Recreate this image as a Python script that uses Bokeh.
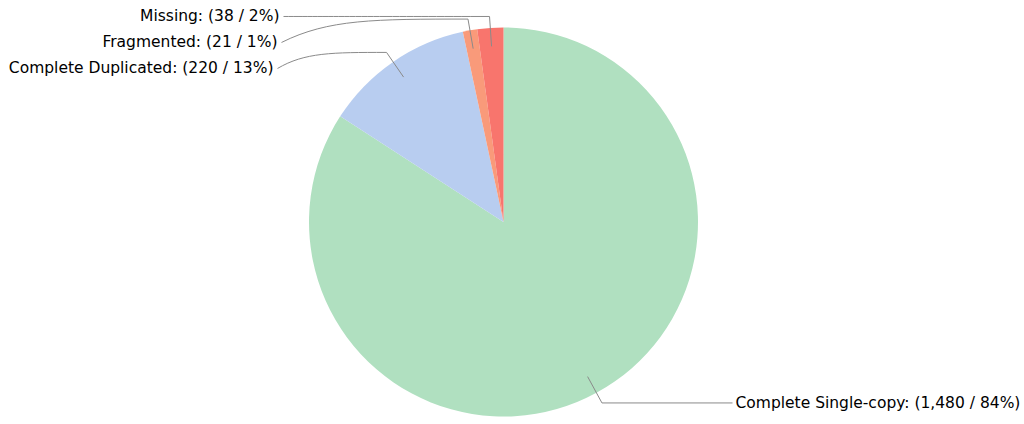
import math
from bokeh.plotting import figure
from bokeh.models import Range1d, ColumnDataSource
from bokeh.embed import file_html
from bokeh.resources import INLINE
from bokeh.core.properties import value

# ---- data ----
categories = ["Complete Single-copy", "Complete Duplicated", "Fragmented", "Missing"]
counts = [1480, 220, 21, 38]
colors = ["#b0e0c0", "#b8cdf0", "#f99a7a", "#f8756d"]

# ---- layout ----
W, H = 1024, 424
cx, cy, R = 503.0, 202.5, 194.5
r_anchor, r_elbow = 176.0, 206.0
label_gap = 26.0
left_label_right = {"Missing": 279, "Fragmented": 277, "Complete Duplicated": 273}
right_label_left = 735

total = sum(counts)
starts, ends, mids, labels = [], [], [], []
cum = 0.0
for c, name in zip(counts, categories):
    f0 = cum / total
    cum += c
    f1 = cum / total
    starts.append(math.pi / 2 - 2 * math.pi * f0)
    ends.append(math.pi / 2 - 2 * math.pi * f1)
    mids.append(math.pi / 2 - 2 * math.pi * (f0 + f1) / 2)
    labels.append(f"{name}: ({c:,} / {round(100 * c / total)}%)")

p = figure(width=W, height=H, output_backend="svg", toolbar_location=None,
           x_range=Range1d(0, W), y_range=Range1d(0, H), min_border=0)
p.axis.visible = False
p.grid.visible = False
p.outline_line_color = None
p.background_fill_color = "white"
p.border_fill_color = "white"

src = ColumnDataSource(dict(start=starts, end=ends, color=colors))
p.wedge(x=cx, y=cy, radius=R, radius_units="screen", start_angle="start",
        end_angle="end", direction="clock", fill_color="color", line_color=None,
        source=src)

conn_color = "#8a8a8a"
font = value("DejaVu Sans")
fsize = "15.5px"

# left side labels: ordered top-down by angle (those with x < cx)
left = [i for i in range(len(categories)) if math.cos(mids[i]) < 0]
left.sort(key=lambda i: -math.sin(mids[i]))
right = [i for i in range(len(categories)) if math.cos(mids[i]) >= 0]

top_y = None
for k, i in enumerate(left):
    ax, ay = cx + r_anchor * math.cos(mids[i]), cy + r_anchor * math.sin(mids[i])
    ex, ey = cx + r_elbow * math.cos(mids[i]), cy + r_elbow * math.sin(mids[i])
    if top_y is None:
        top_y = ey
    ly = top_y - k * label_gap
    lx = left_label_right[categories[i]]
    p.line([ax, ex], [ay, ey], line_color=conn_color, line_width=1)
    sx = lx + 4
    dx = ex - sx
    p.bezier(x0=sx, y0=ly, x1=ex, y1=ey, cx0=sx + 0.25 * dx, cy0=ey,
             cx1=sx + 0.5 * dx, cy1=ey, line_color=conn_color, line_width=1)
    p.text(x=[lx], y=[ly], text=[labels[i]], text_align="right",
           text_baseline="middle", text_font=font, text_font_size=fsize,
           text_color="#000000")

for i in right:
    ax, ay = cx + r_anchor * math.cos(mids[i]), cy + r_anchor * math.sin(mids[i])
    ex, ey = cx + r_elbow * math.cos(mids[i]), cy + r_elbow * math.sin(mids[i])
    p.line([ax, ex, right_label_left - 3], [ay, ey, ey], line_color=conn_color,
           line_width=1)
    p.text(x=[right_label_left], y=[ey], text=[labels[i]], text_align="left",
           text_baseline="middle", text_font=font, text_font_size=fsize,
           text_color="#000000")

open("out.html", "w").write(file_html(p, INLINE))
